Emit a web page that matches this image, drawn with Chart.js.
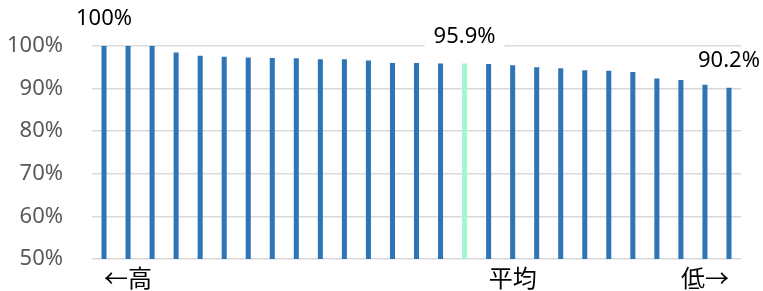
<!DOCTYPE html>
<html>
<head>
<meta charset="utf-8">
<script src="https://cdn.jsdelivr.net/npm/chart.js@4/dist/chart.umd.min.js"></script>
<style>
html,body{margin:0;padding:0;background:#fff;}
#wrap{width:763px;height:291px;position:relative;}
</style>
</head>
<body>
<div id="wrap"><canvas id="c" width="763" height="291"></canvas></div>
<script>
// ---- data ----
const categories = ["","←高","","","","","","","","","","","","","","","","平均","","","","","","","","低→",""];
const values = [100,100,100,98.5,97.7,97.5,97.3,97.2,97.1,96.9,96.9,96.6,96.0,96.0,95.9,95.9,95.8,95.5,95.0,94.8,94.3,94.2,93.9,92.4,92.0,90.9,90.2];
const labelTexts = ["100%",null,null,null,null,null,null,null,null,null,null,null,null,null,null,"95.9%",null,null,null,null,null,null,null,null,null,null,"90.2%"];
const highlightIndex = 15;
const yTicks = [50,60,70,80,90,100];

const barColors = values.map((v,i)=> i===highlightIndex ? '#A3F7CF' : '#2E75B6');

const labelPlugin = {
  id:'barLabels',
  afterDatasetsDraw(chart){
    const ctx = chart.ctx;
    const meta = chart.getDatasetMeta(0);
    ctx.save();
    ctx.font = '22px "Noto Sans", sans-serif';
    ctx.textAlign = 'center';
    ctx.textBaseline = 'middle';
    meta.data.forEach((bar,i)=>{
      const t = labelTexts[i];
      if(!t) return;
      const cx = bar.x;
      const cy = bar.y - 27;
      const w = ctx.measureText(t).width + 18;
      ctx.fillStyle = '#ffffff';
      ctx.fillRect(cx - w/2, cy - 12, w, 24);
      ctx.fillStyle = '#000000';
      ctx.fillText(t, cx, cy);
    });
    ctx.restore();
  }
};

new Chart(document.getElementById('c'), {
  type:'bar',
  data:{
    labels: categories,
    datasets:[{
      data: values,
      backgroundColor: barColors,
      borderWidth:0,
      barPercentage:0.21,
      categoryPercentage:1.0
    }]
  },
  options:{
    responsive:false,
    animation:false,
    devicePixelRatio:1,
    layout:{padding:{top:46,right:22,left:0,bottom:0}},
    plugins:{legend:{display:false},tooltip:{enabled:false}},
    scales:{
      x:{
        grid:{display:false,drawTicks:false},
        border:{display:false},
        ticks:{
          autoSkip:false,maxRotation:0,minRotation:0,
          color:'#000000',
          padding:4,
          font:{family:'"Noto Sans CJK JP", "Noto Sans", sans-serif',size:24}
        },
        afterFit(s){ s.height = 32; }
      },
      y:{
        min:50,max:100,
        afterBuildTicks(s){ s.ticks = yTicks.map(v=>({value:v})); },
        grid:{color:'#D9D9D9',lineWidth:1.5,drawTicks:false},
        border:{display:false},
        ticks:{
          color:'#595959',
          padding:29,
          font:{family:'"Noto Sans", sans-serif',size:22},
          callback:(v)=> v + '%'
        },
        afterFit(s){ s.width = 92; s.paddingTop = 0; s.paddingBottom = 0; }
      }
    }
  },
  plugins:[labelPlugin]
});
</script>
</body>
</html>
